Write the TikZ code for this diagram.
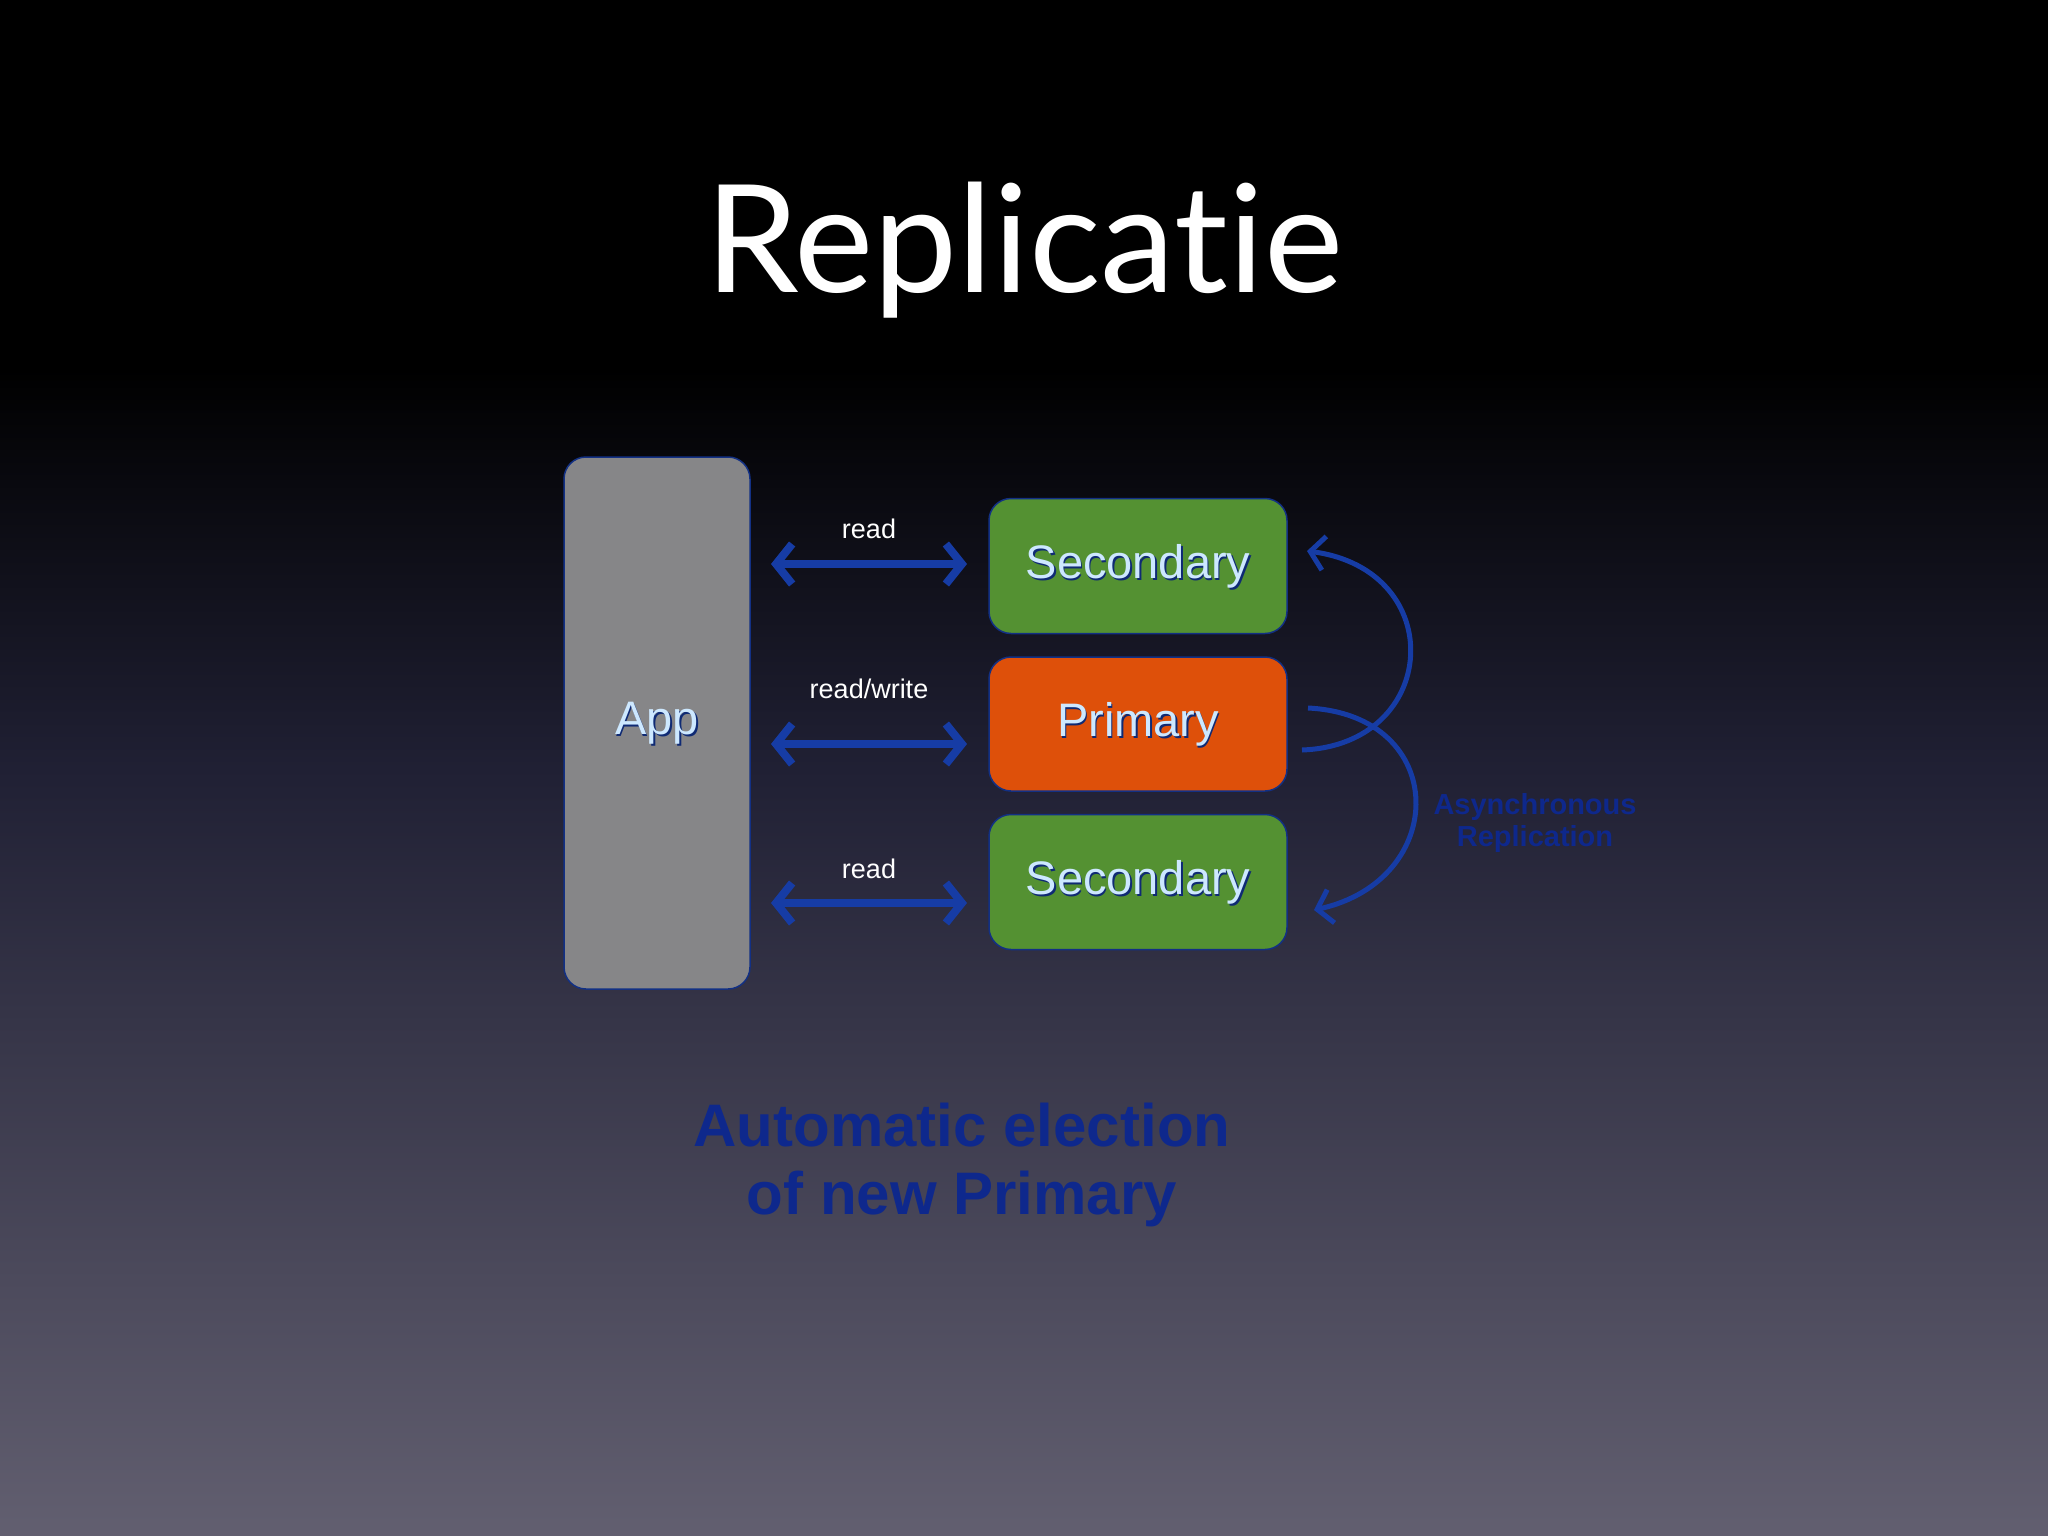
\documentclass[tikz,border=0pt]{standalone}
\usepackage{fontspec}
\setmainfont{Liberation Sans}
\newfontfamily\titlefont[Ligatures=NoCommon]{Lato}
\usetikzlibrary{arrows.meta}
\definecolor{arrblue}{RGB}{22,60,165}
\definecolor{txtblue}{RGB}{205,232,255}
\definecolor{darkblue}{RGB}{14,40,140}
\definecolor{boxgreen}{RGB}{84,145,50}
\definecolor{boxorange}{RGB}{222,80,10}
\definecolor{boxgray}{RGB}{134,134,136}
\definecolor{bgbot}{RGB}{98,95,112}
\definecolor{bgmid}{RGB}{32,32,52}
\definecolor{bgtop}{RGB}{0,0,0}
\pgfdeclareverticalshading{bgshade}{100bp}{color(0bp)=(bgbot); color(25bp)=(bgbot); color(50bp)=(bgmid); color(63bp)=(bgtop); color(75bp)=(bgtop); color(100bp)=(bgtop)}
\tikzset{
  box/.style={draw=arrblue!80!black, line width=1.5pt, rounded corners=22pt, inner sep=0pt},
  lbl/.style={text=white, font=\fontsize{27}{30}\selectfont},
  rw/.style={arrblue, line width=8pt, {Straight Barb[length=16pt,width=40pt,line width=8pt]}-{Straight Barb[length=16pt,width=40pt,line width=8pt]}},
  curv/.style={arrblue, line width=5pt, -{Straight Barb[length=14pt,width=34pt,line width=5pt]}},
  btxt/.style={font=\fontsize{47}{52}\selectfont, text=txtblue}
}
\newcommand{\boxtext}[2]{%
  \node[btxt, text=arrblue!70!black] at ([shift={(1.5pt,-2.5pt)}]#1) {#2};%
  \node[btxt] at (#1) {#2};}
\begin{document}
\begin{tikzpicture}[x=1pt,y=-1pt]
\shade[shading=bgshade] (0,0) rectangle (2048,1536);
\useasboundingbox (0,0) rectangle (2048,1536);
\node[text=white, font=\titlefont\fontsize{150}{160}\selectfont] (title) at (1024,250) {Replicatie};
\node[box, fill=boxgray, minimum width=186pt, minimum height=532pt] (app) at (657,723) {};
\node[box, fill=boxgreen, minimum width=298pt, minimum height=135pt] (s1) at (1138,566) {};
\node[box, fill=boxorange, minimum width=298pt, minimum height=134pt] (p) at (1138,724) {};
\node[box, fill=boxgreen, minimum width=298pt, minimum height=135pt] (s2) at (1138,882) {};
\boxtext{app}{App}
\boxtext{s1}{Secondary}
\boxtext{p}{Primary}
\boxtext{s2}{Secondary}
\coordinate (a1l) at (771,564); \coordinate (a1r) at (967,564);
\coordinate (a2l) at (771,744); \coordinate (a2r) at (967,744);
\coordinate (a3l) at (771,903); \coordinate (a3r) at (967,903);
\draw[rw] (a1l) -- (a1r) node[lbl, midway, above=18pt] {read};
\draw[rw] (a2l) -- (a2r) node[lbl, midway, above=38pt] {read/write};
\draw[rw] (a3l) -- (a3r) node[lbl, midway, above=17pt] {read};
\coordinate (c1s) at (1302,750); \coordinate (c1e) at (1307,551);
\coordinate (c2s) at (1308,708); \coordinate (c2e) at (1314,910);
\draw[curv] (c1s) .. controls (1440,745) and (1450,570) .. (c1e);
\draw[curv] (c2s) .. controls (1450,715) and (1450,880) .. (c2e);
\node[font=\bfseries\fontsize{29}{32}\selectfont, text=darkblue, align=center] (async) at (1535,823) {Asynchronous\\Replication};
\node[font=\bfseries\fontsize{60}{68}\selectfont, text=darkblue, align=center] (auto) at (962,1165) {Automatic election\\of new Primary};
\end{tikzpicture}
\end{document}
